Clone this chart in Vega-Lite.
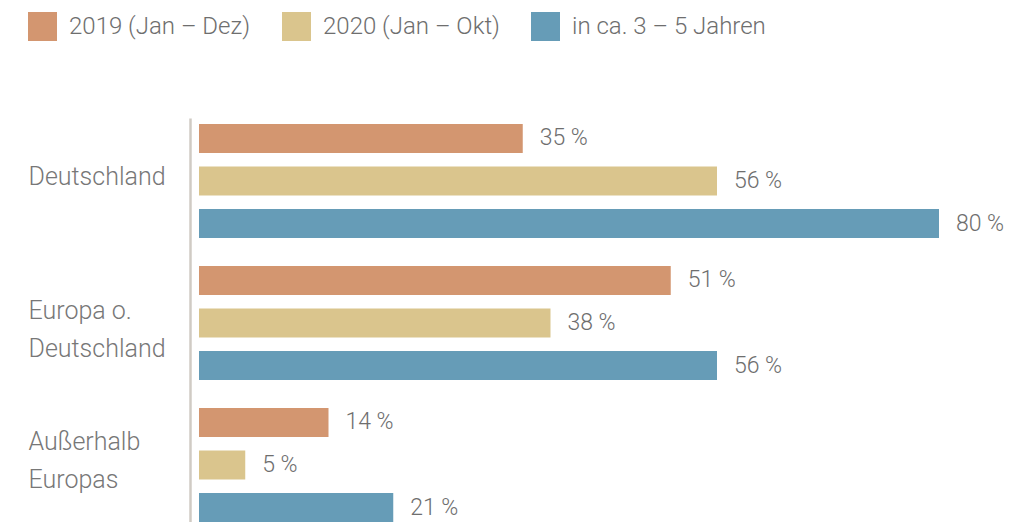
{
  "$schema": "https://vega.github.io/schema/vega-lite/v6.json",
  "width": 832.5,
  "height": 404,
  "autosize": {"type": "none"},
  "padding": {"left": 199, "top": 118, "right": 0, "bottom": 0},
  "background": "white",
  "config": {"view": {"stroke": null}, "font": "Roboto"},
  "data": {"values": [
    {"region": "Deutschland", "series": "2019 (Jan – Dez)", "value": 35, "label": "35 %"},
    {"region": "Deutschland", "series": "2020 (Jan – Okt)", "value": 56, "label": "56 %"},
    {"region": "Deutschland", "series": "in ca. 3 – 5 Jahren", "value": 80, "label": "80 %"},
    {"region": "Europa o.|Deutschland", "series": "2019 (Jan – Dez)", "value": 51, "label": "51 %"},
    {"region": "Europa o.|Deutschland", "series": "2020 (Jan – Okt)", "value": 38, "label": "38 %"},
    {"region": "Europa o.|Deutschland", "series": "in ca. 3 – 5 Jahren", "value": 56, "label": "56 %"},
    {"region": "Außerhalb|Europas", "series": "2019 (Jan – Dez)", "value": 14, "label": "14 %"},
    {"region": "Außerhalb|Europas", "series": "2020 (Jan – Okt)", "value": 5, "label": "5 %"},
    {"region": "Außerhalb|Europas", "series": "in ca. 3 – 5 Jahren", "value": 21, "label": "21 %"}
  ]},
  "encoding": {
    "y": {
      "field": "region", "type": "nominal", "sort": null,
      "scale": {"paddingInner": 0.197, "paddingOuter": 0.0211, "align": 1},
      "axis": {
        "title": null, "ticks": false, "tickSize": 0, "offset": 9,
        "domainColor": "#d0cbc4", "domainWidth": 2.5,
        "labelAlign": "left", "labelPadding": 162, "labelBaseline": "middle",
        "labelFontSize": 25, "labelFontWeight": 300, "labelColor": "#777777", "labelLineHeight": 38,
        "labelLimit": 200,
        "labelOffset": {"condition": [
          {"test": "datum.value === 'Europa o.|Deutschland'", "value": -12},
          {"test": "datum.value === 'Außerhalb|Europas'", "value": -23}
        ], "value": -4},
        "labelExpr": "split(datum.label, '|')"
      }
    },
    "yOffset": {
      "field": "series", "type": "nominal", "sort": null,
      "scale": {"paddingInner": 0.318, "paddingOuter": 0}
    },
    "x": {
      "field": "value", "type": "quantitative",
      "scale": {"domain": [0, 90], "nice": false},
      "axis": null
    }
  },
  "layer": [
    {
      "mark": {"type": "bar", "cornerRadius": 0},
      "encoding": {
        "color": {
          "field": "series", "type": "nominal", "sort": null,
          "scale": {"domain": ["2019 (Jan – Dez)", "2020 (Jan – Okt)", "in ca. 3 – 5 Jahren"], "range": ["#d39670", "#dac58d", "#669cb7"]},
          "legend": {
            "title": null, "orient": "none", "direction": "horizontal",
            "legendX": -171, "legendY": -106,
            "symbolType": "square", "symbolSize": 841, "symbolStrokeWidth": 0,
            "labelFontSize": 24, "labelFontWeight": 300, "labelColor": "#6e6e6e", "labelOffset": 12,
            "labelLimit": 400, "columnPadding": 31
          }
        }
      }
    },
    {
      "mark": {"type": "text", "align": "left", "baseline": "middle", "dx": 17, "fontSize": 23, "fontWeight": 300, "color": "#6e6e6e"},
      "encoding": {"text": {"field": "label"}}
    }
  ]
}
